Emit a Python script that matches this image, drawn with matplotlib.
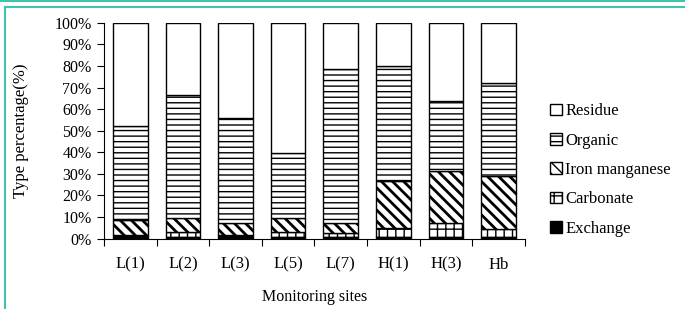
import matplotlib
matplotlib.use("Agg")
import matplotlib.pyplot as plt
from matplotlib.lines import Line2D
import numpy as np

plt.rcParams.update({
    "font.family": ["Liberation Serif", "DejaVu Serif"],
    "hatch.linewidth": 1.0,
})

sites = ["L(1)", "L(2)", "L(3)", "L(5)", "L(7)", "H(1)", "H(3)", "Hb"]
# fractions (%) of each heavy-metal form, bottom to top
exchange = [1.0, 0.5, 1.0, 0.5, 0.5, 0.5, 0.5, 0.5]
carbonate = [0.5, 2.5, 0.5, 2.5, 2.0, 4.5, 6.8, 3.9]
iron_mn = [7.1, 6.4, 5.8, 6.4, 4.5, 21.8, 23.9, 24.6]
organic = [43.4, 57.0, 48.7, 30.1, 71.8, 53.1, 32.6, 42.9]
residue = [48.0, 33.6, 44.0, 60.5, 21.2, 20.1, 36.2, 28.1]

series = [
    ("Exchange", exchange, dict(facecolor="black", hatch=None)),
    ("Carbonate", carbonate, dict(facecolor="white", hatch="++")),
    ("Iron manganese", iron_mn, dict(facecolor="white", hatch="\\\\\\")),
    ("Organic", organic, dict(facecolor="white", hatch="---")),
    ("Residue", residue, dict(facecolor="white", hatch=None)),
]

fig = plt.figure(figsize=(6.85, 3.09), dpi=100)
ax = fig.add_axes([0.152, 0.228, 0.614, 0.698])

x = np.arange(len(sites))
bottom = np.zeros(len(sites))
handles = []
for name, vals, style in series:
    bars = ax.bar(x, vals, width=0.66, bottom=bottom, edgecolor="black",
                  linewidth=1.0, label=name, **style)
    if name == "Iron manganese":
        for b in bars:
            if hasattr(b, "set_hatch_linewidth"):
                b.set_hatch_linewidth(2.0)
    bottom += np.array(vals)
    handles.append(bars)

ax.set_xlim(-0.5, len(sites) - 0.5)
ax.set_ylim(0, 100)
ax.set_yticks(np.arange(0, 101, 10))
ax.set_yticklabels([f"{v}%" for v in range(0, 101, 10)], fontsize=11.5)
ax.set_xticks(np.arange(-0.5, len(sites), 1.0))
ax.set_xticklabels([])
ax.set_xticks(x, minor=True)
ax.set_xticklabels(sites, minor=True, fontsize=12)
ax.tick_params(axis="x", which="minor", length=0, pad=13)
ax.tick_params(axis="x", which="major", length=5, direction="out")
ax.tick_params(axis="y", length=5, direction="out", pad=4)
for s in ["top", "right"]:
    ax.spines[s].set_visible(False)
ax.set_ylabel("Type percentage(%)", fontsize=12, labelpad=18)
ax.set_xlabel("Monitoring sites", fontsize=11.5, labelpad=12)

leg = fig.legend(handles[::-1], [s[0] for s in series][::-1],
                 loc="center left", bbox_to_anchor=(0.803, 0.45),
                 frameon=False, fontsize=12, handlelength=0.7,
                 handleheight=0.7, handletextpad=0.2, labelspacing=0.8,
                 borderpad=0, borderaxespad=0)

# teal frame lines
teal = "#3fc3ae"
fig.add_artist(Line2D([0, 1], [0.997, 0.997], color=teal, lw=1.5, transform=fig.transFigure))
fig.add_artist(Line2D([0.007, 1], [0.978, 0.978], color=teal, lw=1.5, transform=fig.transFigure))
fig.add_artist(Line2D([0.008, 0.008], [0, 0.978], color=teal, lw=1.5, transform=fig.transFigure))

fig.savefig("out.png", dpi=100, facecolor="white")
